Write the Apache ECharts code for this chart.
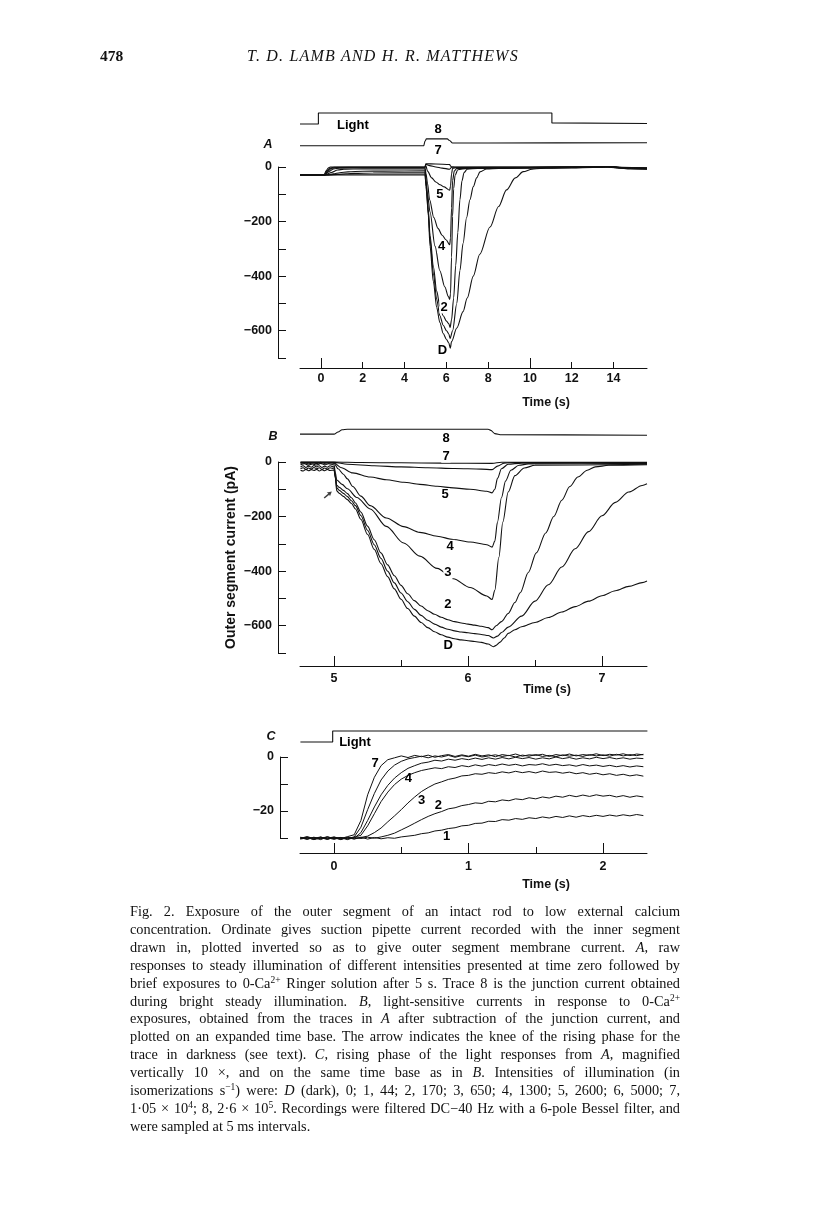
<!DOCTYPE html>
<html><head><meta charset="utf-8">
<script src="https://cdn.jsdelivr.net/npm/echarts@6/dist/echarts.min.js"></script>
<style>
html,body{margin:0;padding:0;background:#fff;}
#wrap{position:relative;width:816px;height:1219px;background:#fff;}
#chart{position:absolute;left:0;top:0;width:816px;height:1219px;}
.t{position:absolute;white-space:nowrap;font-family:"Liberation Serif",serif;color:#111;}
.cap{left:130px;width:550px;font-size:14.3px;line-height:18px;height:18px;text-align:justify;text-align-last:justify;}
.cap.last{text-align-last:left;}
sup{font-size:9.5px;line-height:0;vertical-align:5px;}
</style></head>
<body><div id="wrap"><div id="chart"></div>
<div class="t" style="left:100px;top:47px;font-size:15.5px;font-weight:bold;">478</div>
<div class="t" style="left:247px;top:47px;font-size:16px;font-style:italic;letter-spacing:1.2px;">T. D. LAMB AND H. R. MATTHEWS</div>
<div id="caption"></div>
</div>
<script>
// ---------------- DATA ----------------
// Panel A: time (s), current (pA); trace 8 and light marker plotted offset above
const A_LIGHT = [[-1,0],[-0.12,0],[-0.12,1],[11.05,1],[11.05,0.1],[15.6,0.05]];
const A_T8 = [[-1,78],[4.92,78],[4.98,95],[5.05,103],[6.05,103],[6.14,98],[6.3,88],[8,88],[15.6,89]];
const A_D = [[-1,-29],[4.98,-29],[5.02,-60],[5.06,-95],[5.14,-180],[5.22,-290],[5.38,-420],[5.54,-515],[5.69,-570],[5.85,-610],[6.01,-632],[6.12,-645],[6.19,-664],[6.25,-640],[6.5,-590],[6.8,-530],[7.0,-480],[7.29,-400],[7.6,-320],[8.09,-220],[8.5,-145],[8.88,-84],[9.3,-40],[9.68,-17],[10.1,-8],[10.5,-5],[11,-4],[12,-3],[13,-2],[13.6,0],[14.2,-3],[14.8,-7],[15.6,-8]];
const A_T1 = [[-1,-29],[0.4,-29],[0.8,-27],[1.2,-25],[1.6,-23.5],[2.5,-22],[4.98,-21],[5.03,-70],[5.14,-170],[5.22,-265],[5.38,-390],[5.54,-485],[5.69,-545],[5.85,-580],[6.01,-600],[6.12,-612],[6.18,-628],[6.3,-600],[6.5,-500],[6.65,-380],[6.8,-280],[6.97,-185],[7.13,-120],[7.29,-72],[7.45,-40],[7.61,-18],[7.93,-7],[8.5,-5],[10,-4],[12,-3],[13,-1],[13.7,0],[14.3,-4],[15.6,-7]];
const A_T2 = [[-1,-29],[0.3,-29],[0.6,-25],[0.9,-21],[1.3,-18],[2,-15.5],[3,-15],[4.98,-14],[5.03,-60],[5.14,-155],[5.22,-250],[5.38,-365],[5.54,-455],[5.69,-510],[5.85,-545],[6.01,-565],[6.12,-575],[6.18,-588],[6.25,-560],[6.35,-480],[6.45,-360],[6.55,-240],[6.65,-120],[6.75,-50],[6.85,-20],[7.0,-8],[7.5,-5],[10,-3],[12,-3],[13,-1],[13.7,1],[14.3,-3],[15.6,-6]];
const A_T3 = [[-1,-29],[0.2,-29],[0.5,-20],[0.8,-11],[1.1,-8],[2,-7],[4.98,-7],[5.03,-50],[5.1,-100],[5.22,-165],[5.46,-290],[5.69,-380],[5.93,-440],[6.1,-475],[6.16,-485],[6.2,-465],[6.25,-330],[6.3,-180],[6.35,-80],[6.42,-30],[6.55,-10],[7,-5],[10,-3],[13,-1],[13.8,1],[14.4,-3],[15.6,-6]];
const A_T4 = [[-1,-29],[0.18,-29],[0.4,-16],[0.6,-7],[0.9,-4],[2,-3],[4.98,-3],[5.03,-25],[5.1,-60],[5.2,-120],[5.4,-185],[5.6,-225],[5.8,-250],[6.0,-268],[6.16,-285],[6.2,-260],[6.25,-150],[6.3,-50],[6.38,-15],[6.5,-5],[10,-2],[13,0],[13.8,1],[14.4,-3],[15.6,-5]];
const A_T5 = [[-1,-29],[0.17,-29],[0.35,-14],[0.5,-5],[0.7,-2],[2,-1],[4.98,-1],[5.02,5],[5.1,-15],[5.3,-40],[5.5,-55],[5.7,-65],[5.9,-73],[6.16,-85],[6.2,-70],[6.25,-25],[6.3,-5],[6.5,-2],[10,-1],[13,0],[13.8,2],[14.4,-2],[15.6,-5]];
const A_T6 = [[-1,-29],[0.16,-29],[0.3,-14],[0.45,-4],[0.6,-1],[4.98,-0.5],[5.02,10],[5.2,5],[5.5,0],[5.8,-4],[6.16,-8],[6.2,-5],[6.25,0],[6.4,-1],[10,-1],[13,1],[13.8,2],[14.4,-2],[15.6,-4]];
const A_T7 = [[-1,-29],[0.15,-29],[0.25,-14],[0.35,-4],[0.45,0],[4.98,0],[5.02,12],[5.5,11],[6.16,9],[6.2,4],[6.25,0],[6.4,0],[10,0],[13,1],[13.8,2],[14.4,-1],[15.6,-3]];
const A_LABELS = [[5.61,138,'8'],[5.61,60,'7'],[5.69,-100,'5'],[5.77,-292,'4'],[5.89,-513,'2'],[5.81,-674,'D']];
const A_LIGHT_LABEL = [[1.53,-0.09,'Light']];

// Panel B: time (s), light-sensitive current (pA)
const B_T8 = [[4.746,102],[5.0,102],[5.03,110],[5.06,118],[5.1,120],[6.15,120],[6.17,116],[6.2,104],[6.25,100],[7.336,98]];
const B_D = [[4.75,-30],[4.77,-33],[4.79,-27],[4.81,-32],[4.83,-28],[4.85,-31],[4.87,-27],[4.89,-33],[4.91,-28],[4.93,-32],[4.95,-27],[4.97,-31],[5.0,-30],[5.01,-60],[5.02,-106],[5.04,-115],[5.07,-126],[5.1,-138],[5.13,-152],[5.16,-172],[5.2,-210],[5.25,-265],[5.3,-320],[5.35,-372],[5.4,-420],[5.45,-465],[5.5,-503],[5.55,-537],[5.6,-565],[5.65,-588],[5.7,-607],[5.75,-622],[5.8,-633],[5.85,-642],[5.9,-648],[5.95,-652],[6.0,-655],[6.05,-658],[6.1,-661],[6.15,-667],[6.19,-677],[6.21,-672],[6.24,-660],[6.27,-645],[6.3,-628],[6.35,-615],[6.4,-604],[6.5,-588],[6.6,-570],[6.7,-550],[6.8,-530],[6.9,-510],[7.0,-490],[7.1,-472],[7.2,-456],[7.3,-442],[7.336,-436]];
const B_T1 = [[4.75,-25],[4.77,-21],[4.79,-27],[4.81,-22],[4.83,-26],[4.85,-20],[4.87,-25],[4.89,-21],[4.91,-27],[4.93,-22],[4.95,-26],[4.97,-21],[5.0,-25],[5.01,-55],[5.02,-95],[5.04,-104],[5.07,-115],[5.1,-127],[5.13,-142],[5.16,-160],[5.2,-196],[5.25,-250],[5.3,-303],[5.35,-353],[5.4,-400],[5.45,-443],[5.5,-480],[5.55,-512],[5.6,-540],[5.65,-562],[5.7,-580],[5.75,-594],[5.8,-605],[5.85,-613],[5.9,-619],[5.95,-623],[6.0,-626],[6.05,-629],[6.1,-632],[6.15,-636],[6.19,-645],[6.22,-638],[6.25,-625],[6.3,-605],[6.4,-565],[6.5,-510],[6.6,-450],[6.7,-385],[6.8,-318],[6.9,-255],[7.0,-197],[7.1,-148],[7.2,-110],[7.3,-86],[7.336,-80]];
const B_T2 = [[4.75,-18],[4.77,-14],[4.79,-20],[4.81,-15],[4.83,-19],[4.85,-13],[4.87,-18],[4.89,-14],[4.91,-20],[4.93,-15],[4.95,-19],[4.97,-14],[5.0,-18],[5.01,-50],[5.02,-85],[5.04,-93],[5.07,-104],[5.1,-116],[5.13,-131],[5.16,-150],[5.2,-183],[5.25,-235],[5.3,-285],[5.35,-333],[5.4,-377],[5.45,-417],[5.5,-452],[5.55,-483],[5.6,-508],[5.65,-528],[5.7,-545],[5.75,-558],[5.8,-569],[5.85,-578],[5.9,-585],[5.95,-590],[6.0,-594],[6.05,-598],[6.1,-602],[6.15,-607],[6.18,-615],[6.21,-600],[6.25,-585],[6.3,-555],[6.35,-515],[6.39,-479],[6.45,-405],[6.51,-333],[6.58,-260],[6.64,-200],[6.7,-140],[6.76,-90],[6.82,-55],[6.89,-30],[6.95,-18],[7.05,-12],[7.336,-10]];
const B_T3 = [[4.75,-10],[4.78,-6],[4.81,-12],[4.84,-7],[4.87,-11],[4.9,-5],[4.93,-10],[4.96,-6],[5.0,-10],[5.01,-40],[5.02,-66],[5.06,-82],[5.1,-98],[5.17,-130],[5.27,-172],[5.39,-236],[5.52,-297],[5.64,-345],[5.77,-390],[5.89,-428],[6.015,-460],[6.14,-491],[6.18,-504],[6.2,-470],[6.23,-350],[6.26,-220],[6.3,-110],[6.35,-50],[6.42,-22],[6.5,-12],[7.336,-8]];
const B_T4 = [[4.75,-5],[4.78,-2],[4.81,-7],[4.84,-3],[4.87,-6],[4.9,-1],[4.93,-5],[4.96,-2],[5.0,-5],[5.03,-25],[5.07,-45],[5.1,-62],[5.14,-90],[5.2,-125],[5.27,-160],[5.39,-205],[5.52,-237],[5.64,-258],[5.77,-272],[5.89,-284],[6.015,-293],[6.14,-303],[6.18,-312],[6.2,-290],[6.22,-220],[6.25,-130],[6.28,-70],[6.32,-30],[6.38,-12],[6.45,-7],[7.336,-5]];
const B_T5 = [[4.75,-3],[5.0,-3],[5.05,-20],[5.14,-40],[5.27,-55],[5.39,-65],[5.52,-74],[5.64,-82],[5.77,-89],[5.89,-95],[6.015,-100],[6.14,-107],[6.18,-113],[6.2,-100],[6.22,-60],[6.25,-25],[6.3,-8],[6.4,-4],[7.336,-3]];
const B_T6 = [[4.75,-1.5],[5.0,-1.5],[5.1,-8],[5.3,-14],[5.5,-18],[5.7,-21],[5.9,-24],[6.1,-26],[6.18,-28],[6.22,-15],[6.27,-4],[6.35,-2],[7.336,-2]];
const B_T7 = [[4.75,0],[5.0,0],[5.2,-2],[5.5,-3],[5.8,-4],[6.18,-5],[6.25,-1],[7.336,-1]];
const B_LABELS = [[5.836,87,'8'],[5.836,22,'7'],[5.83,-120,'5'],[5.866,-309,'4'],[5.85,-406,'3'],[5.85,-522,'2'],[5.853,-674,'D']];
const B_ARROW = [[4.955,-120]];

// Panel C: time (s), current (pA), rising phase magnified 10x
const C_LIGHT = [[-0.25,0],[-0.01,0],[-0.01,1],[2.33,1]];
const C_T7 = [[-0.25,-30.3],[-0.2,-29.6],[-0.15,-30.4],[-0.1,-29.8],[-0.05,-30.5],[0,-29.7],[0.05,-30.2],[0.1,-29.5],[0.15,-28.8],[0.2,-23.5],[0.25,-14],[0.3,-7.5],[0.35,-3.2],[0.4,-1.0],[0.45,-0.3],[0.5,0.4],[0.55,-0.2],[0.6,0.6],[0.65,0.1],[0.7,0.7],[0.75,-0.1],[0.8,0.5],[0.85,0.9],[0.9,0.2],[0.95,0.8],[1.0,0.3],[1.05,1.0],[1.1,0.4],[1.15,0.8],[1.2,0.1],[1.25,0.9],[1.3,0.5],[1.35,1.1],[1.4,0.3],[1.45,0.8],[1.5,0.6],[1.55,1.0],[1.6,0.2],[1.65,0.9],[1.7,0.5],[1.75,1.1],[1.8,0.4],[1.85,0.9],[1.9,0.6],[1.95,1.2],[2.0,0.5],[2.05,1.0],[2.1,0.7],[2.15,1.2],[2.2,0.5],[2.25,1.1],[2.3,0.8]];
const C_T6 = [[-0.25,-29.8],[-0.2,-30.4],[-0.15,-29.7],[-0.1,-30.3],[-0.05,-29.9],[0,-30.5],[0.05,-29.8],[0.1,-30.2],[0.15,-29.6],[0.2,-26],[0.25,-19.5],[0.3,-13.5],[0.35,-8.5],[0.4,-5.2],[0.45,-3.0],[0.5,-1.6],[0.55,-0.7],[0.6,-0.2],[0.65,0.3],[0.7,-0.3],[0.75,0.4],[0.8,0],[0.85,0.6],[0.9,-0.1],[0.95,0.5],[1.0,0.1],[1.05,0.7],[1.1,0],[1.15,0.4],[1.2,0.8],[1.25,0.2],[1.3,0.6],[1.35,0],[1.4,0.7],[1.45,0.3],[1.5,0.9],[1.55,0.2],[1.6,0.6],[1.65,0.1],[1.7,0.8],[1.75,0.3],[1.8,0.7],[1.85,0.2],[1.9,0.9],[1.95,0.4],[2.0,0.8],[2.05,0.3],[2.1,1.0],[2.15,0.4],[2.2,0.9],[2.25,0.5],[2.3,1.0]];
const C_T5 = [[-0.25,-30.1],[-0.2,-29.5],[-0.15,-30.2],[-0.1,-29.6],[-0.05,-30.4],[0,-29.9],[0.05,-30.6],[0.1,-29.7],[0.15,-30.1],[0.2,-28],[0.25,-23.5],[0.3,-18.5],[0.35,-14],[0.4,-10.5],[0.45,-7.8],[0.5,-5.8],[0.55,-4.2],[0.6,-3.2],[0.65,-2.3],[0.7,-1.9],[0.75,-1.2],[0.8,-1.5],[0.85,-0.8],[0.9,-1.2],[0.95,-0.6],[1.0,-1.0],[1.05,-0.4],[1.1,-0.9],[1.15,-0.3],[1.2,-0.8],[1.25,-0.2],[1.3,-0.7],[1.35,-0.1],[1.4,-0.6],[1.45,-0.2],[1.5,-0.8],[1.55,-0.3],[1.6,-0.7],[1.65,0],[1.7,-0.6],[1.75,-0.2],[1.8,-0.8],[1.85,-0.3],[1.9,-0.7],[1.95,-0.1],[2.0,-0.6],[2.05,-0.2],[2.1,-0.7],[2.15,-0.3],[2.2,-0.8],[2.25,-0.4],[2.3,-0.6]];
const C_T4 = [[-0.25,-29.7],[-0.2,-30.3],[-0.15,-29.9],[-0.1,-30.6],[-0.05,-29.6],[0,-30.2],[0.05,-29.8],[0.1,-30.4],[0.15,-29.7],[0.2,-29],[0.25,-25.5],[0.3,-21],[0.35,-16.5],[0.4,-13],[0.45,-10.2],[0.5,-8.2],[0.55,-6.8],[0.6,-5.8],[0.65,-5.0],[0.7,-4.5],[0.75,-4.0],[0.8,-4.3],[0.85,-3.6],[0.9,-3.9],[0.95,-3.2],[1.0,-3.6],[1.05,-2.9],[1.1,-3.4],[1.15,-2.8],[1.2,-3.2],[1.25,-2.6],[1.3,-3.1],[1.35,-2.7],[1.4,-3.3],[1.45,-2.8],[1.5,-3.0],[1.55,-2.5],[1.6,-3.1],[1.65,-2.7],[1.7,-3.2],[1.75,-2.9],[1.8,-3.4],[1.85,-2.8],[1.9,-3.3],[1.95,-3.0],[2.0,-3.5],[2.05,-3.1],[2.1,-3.6],[2.15,-3.2],[2.2,-3.7],[2.25,-3.3],[2.3,-3.6]];
const C_T3 = [[-0.25,-30.4],[-0.2,-29.9],[-0.15,-30.5],[-0.1,-29.7],[-0.05,-30.1],[0,-29.6],[0.05,-30.3],[0.1,-29.9],[0.15,-30.4],[0.2,-29.8],[0.25,-29.3],[0.3,-28],[0.35,-26.3],[0.4,-24],[0.45,-21.8],[0.5,-19.5],[0.55,-17],[0.6,-14.8],[0.65,-12.8],[0.7,-11.3],[0.75,-10],[0.8,-9.2],[0.85,-8.3],[0.9,-7.8],[0.95,-7.0],[1.0,-6.8],[1.05,-6.2],[1.1,-6.4],[1.15,-5.8],[1.2,-6.1],[1.25,-5.5],[1.3,-5.9],[1.35,-5.3],[1.4,-5.8],[1.45,-5.4],[1.5,-5.9],[1.55,-5.2],[1.6,-5.7],[1.65,-5.5],[1.7,-6.0],[1.75,-5.6],[1.8,-6.2],[1.85,-5.8],[1.9,-6.4],[1.95,-6.0],[2.0,-6.6],[2.05,-6.2],[2.1,-6.8],[2.15,-6.4],[2.2,-7.0],[2.25,-6.6],[2.3,-7.1]];
const C_T2 = [[-0.25,-29.9],[-0.2,-30.5],[-0.15,-29.8],[-0.1,-30.2],[-0.05,-29.5],[0,-30.3],[0.05,-29.9],[0.1,-30.6],[0.15,-29.8],[0.2,-30.2],[0.25,-29.7],[0.3,-30.1],[0.35,-29.6],[0.4,-29],[0.45,-28.2],[0.5,-27],[0.55,-25.8],[0.6,-24.5],[0.65,-23.2],[0.7,-22],[0.75,-21],[0.8,-20.2],[0.85,-19.2],[0.9,-18.8],[0.95,-18],[1.0,-17.6],[1.05,-17.0],[1.1,-17.2],[1.15,-16.4],[1.2,-16.6],[1.25,-15.9],[1.3,-16.2],[1.35,-15.5],[1.4,-15.8],[1.45,-15.1],[1.5,-15.5],[1.55,-14.8],[1.6,-15.2],[1.65,-14.5],[1.7,-14.9],[1.75,-14.2],[1.8,-14.7],[1.85,-14.1],[1.9,-14.6],[1.95,-14.0],[2.0,-14.5],[2.05,-14.2],[2.1,-14.8],[2.15,-14.3],[2.2,-14.9],[2.25,-14.4],[2.3,-14.8]];
const C_T1 = [[-0.25,-30.2],[-0.2,-29.8],[-0.15,-30.6],[-0.1,-30.0],[-0.05,-30.4],[0,-29.8],[0.05,-30.5],[0.1,-29.9],[0.15,-30.3],[0.2,-29.7],[0.25,-30.4],[0.3,-29.8],[0.35,-30.3],[0.4,-29.9],[0.45,-30.1],[0.5,-29.6],[0.55,-29.3],[0.6,-29.0],[0.65,-28.4],[0.7,-28.1],[0.75,-27.4],[0.8,-27.1],[0.85,-26.5],[0.9,-26.2],[0.95,-25.5],[1.0,-25.3],[1.05,-24.6],[1.1,-24.5],[1.15,-23.8],[1.2,-23.9],[1.25,-23.2],[1.3,-23.4],[1.35,-22.8],[1.4,-23.1],[1.45,-22.5],[1.5,-22.8],[1.55,-22.2],[1.6,-22.6],[1.65,-22.0],[1.7,-22.4],[1.75,-21.8],[1.8,-22.3],[1.85,-21.7],[1.9,-22.1],[1.95,-21.6],[2.0,-22.0],[2.05,-21.5],[2.1,-21.9],[2.15,-21.4],[2.2,-21.8],[2.25,-21.3],[2.3,-21.7]];
const C_LABELS = [[0.305,-2.3,'7'],[0.553,-7.9,'4'],[0.652,-15.9,'3'],[0.776,-17.8,'2'],[0.838,-29.5,'1']];
const C_LIGHT_LABEL = [[0.156,0,'Light']];

// Tick values / labels
const A_X_TICKS = [2,4,6,8,12,14], A_X_MAJOR = [0,10], A_X_LABELS = [0,2,4,6,8,10,12,14];
const B_X_TICKS = [5.5,6.5], B_X_MAJOR = [5,6,7], B_X_LABELS = [5,6,7];
const C_X_TICKS = [0.5,1.5], C_X_MAJOR = [0,1,2], C_X_LABELS = [0,1,2];
const AB_Y_TICKS = [0,-100,-200,-300,-400,-500,-600,-700], AB_Y_LABELS = [0,-200,-400,-600];
const C_Y_TICKS = [0,-10,-20,-30], C_Y_LABELS = [0,-20];

const CAPTION = [
 'Fig. 2. Exposure of the outer segment of an intact rod to low external calcium',
 'concentration. Ordinate gives suction pipette current recorded with the inner segment',
 'drawn in, plotted inverted so as to give outer segment membrane current. <i>A</i>, raw',
 'responses to steady illumination of different intensities presented at time zero followed by',
 'brief exposures to 0-Ca<sup>2+</sup> Ringer solution after 5 s. Trace 8 is the junction current obtained',
 'during bright steady illumination. <i>B</i>, light-sensitive currents in response to 0-Ca<sup>2+</sup>',
 'exposures, obtained from the traces in <i>A</i> after subtraction of the junction current, and',
 'plotted on an expanded time base. The arrow indicates the knee of the rising phase for the',
 'trace in darkness (see text). <i>C</i>, rising phase of the light responses from <i>A</i>, magnified',
 'vertically 10 ×, and on the same time base as in <i>B</i>. Intensities of illumination (in',
 'isomerizations s<sup>−1</sup>) were: <i>D</i> (dark), 0; 1, 44; 2, 170; 3, 650; 4, 1300; 5, 2600; 6, 5000; 7,',
 '1·05 × 10<sup>4</sup>; 8, 2·6 × 10<sup>5</sup>. Recordings were filtered DC−40 Hz with a 6-pole Bessel filter, and',
 'were sampled at 5 ms intervals.'
];

// ---------------- CAPTION (HTML text) ----------------
const CAP_FONT = 14.3;
const capEl = document.getElementById('caption');
CAPTION.forEach((txt, i) => {
  const d = document.createElement('div');
  d.className = 't cap' + (i === CAPTION.length - 1 ? ' last' : '');
  d.style.top = (902 + i * 17.9) + 'px';
  d.innerHTML = txt;
  capEl.appendChild(d);
});
document.querySelectorAll('.cap').forEach(d => {
  const s = document.createElement('span');
  s.innerHTML = d.innerHTML;
  s.style.cssText = 'position:absolute;visibility:hidden;white-space:nowrap;font-family:"Liberation Serif",serif;font-size:' + CAP_FONT + 'px;';
  document.body.appendChild(s);
  const w = s.offsetWidth;
  document.body.removeChild(s);
  if (w > 548) d.style.fontSize = (CAP_FONT * 548 / w) + 'px';
});

// ---------------- CHART ----------------
const INK = '#111';
const SANS = 'Liberation Sans';
const minus = v => (v < 0 ? '\u2212' : '') + Math.abs(v);

const XR = { A: [-1.0, 15.6], B: [4.746, 7.336], C: [-0.253, 2.327] };

function xMain(grid, r, offset, ticks, labels, margin) {
  return { type: 'value', gridIndex: grid, min: r[0], max: r[1], position: 'bottom', offset,
    axisLine: { show: true, onZero: false, lineStyle: { color: INK, width: 1 } },
    axisTick: { show: true, inside: true, length: 6, customValues: ticks, lineStyle: { color: INK, width: 1 } },
    axisLabel: { show: true, customValues: labels, margin, color: INK, fontFamily: SANS, fontWeight: 'bold', fontSize: 12.5, formatter: v => String(v) },
    splitLine: { show: false } };
}
function xMajor(grid, r, offset, ticks) {
  return { type: 'value', gridIndex: grid, min: r[0], max: r[1], position: 'bottom', offset,
    axisLine: { show: false, onZero: false },
    axisTick: { show: true, inside: true, length: 10, customValues: ticks, lineStyle: { color: INK, width: 1 } },
    axisLabel: { show: false }, splitLine: { show: false } };
}
function xHidden(grid, r) { return { type: 'value', gridIndex: grid, min: r[0], max: r[1], show: false }; }
function yMain(grid, min, offset, ticks, labels, extra) {
  return Object.assign({ type: 'value', gridIndex: grid, min, max: 0, position: 'left', offset,
    axisLine: { show: true, onZero: false, lineStyle: { color: INK, width: 1 } },
    axisTick: { show: true, inside: true, length: 8, customValues: ticks, lineStyle: { color: INK, width: 1 } },
    axisLabel: { show: true, customValues: labels, margin: 6, color: INK, fontFamily: SANS, fontWeight: 'bold', fontSize: 12.5, formatter: minus },
    splitLine: { show: false } }, extra || {});
}
function yHidden(grid) { return { type: 'value', gridIndex: grid, min: 0, max: 1, show: false }; }

function trace(data, xi, yi, smooth, width) {
  return { type: 'line', data, xAxisIndex: xi, yAxisIndex: yi, symbol: 'none', showSymbol: false, clip: false, silent: true,
    smooth: smooth === undefined ? 0.3 : smooth, smoothMonotone: 'x',
    lineStyle: { color: INK, width: width || 1.1 }, animation: false, z: 2 };
}
function labels(data, xi, yi, bg) {
  return { type: 'scatter', data, xAxisIndex: xi, yAxisIndex: yi, symbolSize: 0, clip: false, silent: true,
    itemStyle: { color: INK, opacity: 1 }, animation: false, z: 5,
    label: { show: true, position: 'inside', formatter: p => p.data[2], color: '#000', opacity: 1, textBorderWidth: 0,
      fontFamily: SANS, fontWeight: 'bold', fontSize: 13,
      backgroundColor: bg ? '#fff' : 'transparent', padding: bg ? [0, 1] : 0 } };
}

const option = {
  backgroundColor: '#fff',
  animation: false,
  grid: [
    { left: 300, top: 167, width: 347, height: 191 },  // 0 A
    { left: 300, top: 113, width: 347, height: 11 },   // 1 A light
    { left: 300, top: 462, width: 347, height: 191 },  // 2 B
    { left: 300, top: 757, width: 347, height: 81 },   // 3 C
    { left: 300, top: 731, width: 347, height: 11 }    // 4 C light
  ],
  xAxis: [
    xMain(0, XR.A, 10, A_X_TICKS, A_X_LABELS, 4),     // 0
    xMajor(0, XR.A, 10, A_X_MAJOR),                   // 1
    xHidden(1, XR.A),                                 // 2
    xMain(2, XR.B, 13, B_X_TICKS, B_X_LABELS, 6),     // 3
    xMajor(2, XR.B, 13, B_X_MAJOR),                   // 4
    xMain(3, XR.C, 15, C_X_TICKS, C_X_LABELS, 7),     // 5
    xMajor(3, XR.C, 15, C_X_MAJOR),                   // 6
    xHidden(4, XR.C)                                  // 7
  ],
  yAxis: [
    yMain(0, -700, 22, AB_Y_TICKS, AB_Y_LABELS),      // 0
    yHidden(1),                                       // 1
    yMain(2, -700, 22, AB_Y_TICKS, AB_Y_LABELS, {     // 2
      name: 'Outer segment current (pA)', nameLocation: 'middle', nameGap: 40, nameRotate: 90,
      nameTextStyle: { color: INK, fontFamily: SANS, fontWeight: 'bold', fontSize: 14 } }),
    yMain(3, -30, 20, C_Y_TICKS, C_Y_LABELS),         // 3
    yHidden(4)                                        // 4
  ],
  series: [
    trace(A_LIGHT, 2, 1, 0),
    trace(A_T8, 0, 0, 0.3),
    trace(A_D, 0, 0), trace(A_T1, 0, 0), trace(A_T2, 0, 0), trace(A_T3, 0, 0),
    trace(A_T4, 0, 0), trace(A_T5, 0, 0), trace(A_T6, 0, 0), trace(A_T7, 0, 0),
    labels(A_LABELS, 0, 0, true),
    labels(A_LIGHT_LABEL, 2, 1, false),

    trace(B_T8, 3, 2, 0.3),
    trace(B_D, 3, 2), trace(B_T1, 3, 2), trace(B_T2, 3, 2), trace(B_T3, 3, 2),
    trace(B_T4, 3, 2), trace(B_T5, 3, 2), trace(B_T6, 3, 2), trace(B_T7, 3, 2),
    labels(B_LABELS, 3, 2, true),
    { type: 'scatter', data: B_ARROW, xAxisIndex: 3, yAxisIndex: 2, silent: true, clip: false, animation: false,
      symbol: 'path://M5,0 L10,9 L6.5,8 L6.5,20 L3.5,20 L3.5,8 L0,9 Z', symbolSize: [5, 10], symbolRotate: -50,
      itemStyle: { color: INK } },

    trace(C_LIGHT, 7, 4, 0),
    trace(C_T7, 5, 3, 0, 1), trace(C_T6, 5, 3, 0, 1), trace(C_T5, 5, 3, 0, 1), trace(C_T4, 5, 3, 0, 1),
    trace(C_T3, 5, 3, 0, 1), trace(C_T2, 5, 3, 0, 1), trace(C_T1, 5, 3, 0, 1),
    labels(C_LABELS, 5, 3, false),
    labels(C_LIGHT_LABEL, 7, 4, false)
  ],
  graphic: [
    { type: 'text', x: 268, y: 145, style: { text: 'A', font: 'italic bold 12.5px "Liberation Sans"', fill: INK, align: 'center', verticalAlign: 'middle' } },
    { type: 'text', x: 273, y: 437, style: { text: 'B', font: 'italic bold 12.5px "Liberation Sans"', fill: INK, align: 'center', verticalAlign: 'middle' } },
    { type: 'text', x: 271, y: 737, style: { text: 'C', font: 'italic bold 12.5px "Liberation Sans"', fill: INK, align: 'center', verticalAlign: 'middle' } },
    { type: 'text', x: 546, y: 403, style: { text: 'Time (s)', font: 'bold 12.5px "Liberation Sans"', fill: INK, align: 'center', verticalAlign: 'middle' } },
    { type: 'text', x: 547, y: 690, style: { text: 'Time (s)', font: 'bold 12.5px "Liberation Sans"', fill: INK, align: 'center', verticalAlign: 'middle' } },
    { type: 'text', x: 546, y: 885, style: { text: 'Time (s)', font: 'bold 12.5px "Liberation Sans"', fill: INK, align: 'center', verticalAlign: 'middle' } }
  ]
};

const chart = echarts.init(document.getElementById('chart'), null, { renderer: 'canvas', width: 816, height: 1219 });
chart.setOption(option);
</script>
</body></html>
